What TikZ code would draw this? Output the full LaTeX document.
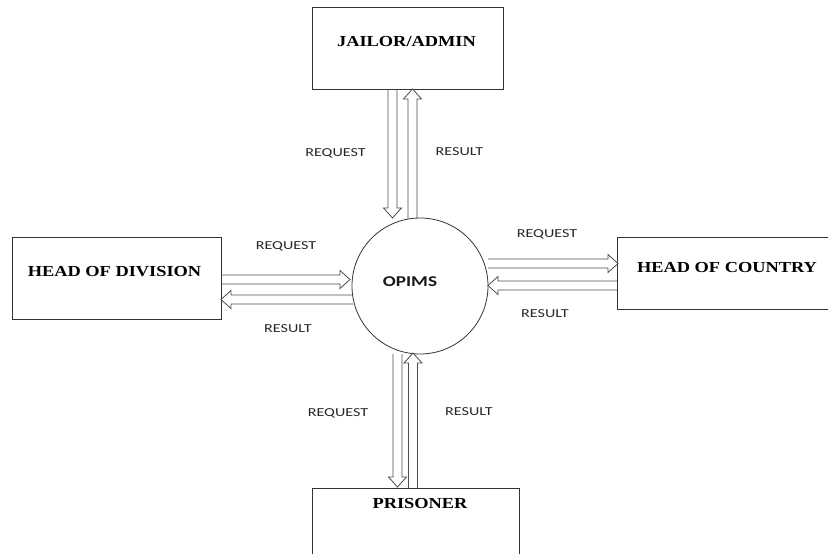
\documentclass[tikz,border=0pt]{standalone}
\usepackage{fontspec}
\usetikzlibrary{calc}
\newfontfamily\boxfont{Liberation Serif}[FakeStretch=1.2]
\newfontfamily\lblfont{Carlito}[FakeStretch=1.32]
\newfontfamily\ctrfont{Carlito}[FakeStretch=1.28]
\definecolor{edgecol}{gray}{0.2}
\definecolor{flowcol}{gray}{0.3}
\definecolor{lblcol}{gray}{0.15}
\newcommand\flowarrow[2]{%
  \path ($(#2)!10pt!(#1)$) coordinate (fa-base);
  \draw[flowline] ($(#1)!4.5pt!90:(#2)$) -- ($(fa-base)!4.5pt!90:(#2)$) -- ($(fa-base)!9pt!90:(#2)$) -- (#2) -- ($(fa-base)!9pt!-90:(#2)$) -- ($(fa-base)!4.5pt!-90:(#2)$) -- ($(#1)!4.5pt!-90:(#2)$);}
\tikzset{
  entity/.style={draw=edgecol, line width=0.9pt, rectangle, inner sep=0pt},
  enttext/.style={font=\boxfont\bfseries\fontsize{15.3}{18}\selectfont, text=black, inner sep=0pt},
  proc/.style={draw=edgecol, line width=0.8pt, circle, inner sep=0pt, minimum size=136pt},
  proctext/.style={font=\ctrfont\bfseries\fontsize{15}{18}\selectfont, text=black!90, inner sep=0pt},
  flowlbl/.style={font=\lblfont\fontsize{12.2}{14}\selectfont, text=lblcol, inner sep=0pt},
  flowline/.style={draw=flowcol, line width=0.8pt, line join=miter}
}
\begin{document}
\begin{tikzpicture}[x=1pt, y=-1pt]
\useasboundingbox (0,0) rectangle (828,554);
% entities
\node[entity, minimum width=191pt, minimum height=82pt] (jailor) at (407.5,48) {};
\node[enttext] (jailortxt) at (406.5,42) {JAILOR/ADMIN};
\node[entity, minimum width=209pt, minimum height=82pt] (division) at (116.5,278) {};
\node[enttext] (divisiontxt) at (114.5,271.5) {HEAD OF DIVISION};
\node[entity, minimum width=215pt, minimum height=72pt] (country) at (724.5,273) {};
\node[enttext] (countrytxt) at (727,267.5) {HEAD OF COUNTRY};
\node[entity, minimum width=207pt, minimum height=80pt] (prisoner) at (415.5,528) {};
\node[enttext] (prisonertxt) at (420,504) {PRISONER};
% process
\node[proc] (opims) at (420,286) {};
\node[proctext] (opimstxt) at (410,282) {OPIMS};
% flow end points
\coordinate (jq1) at (392.5,89);   \coordinate (jq2) at (392.5,218);
\coordinate (jr1) at (412.5,219);  \coordinate (jr2) at (412.5,89);
\coordinate (dq1) at (221,279.5);  \coordinate (dq2) at (350,279.5);
\coordinate (dr1) at (353,299.5);  \coordinate (dr2) at (221,299.5);
\coordinate (cq1) at (488,263.5);  \coordinate (cq2) at (618,263.5);
\coordinate (cr1) at (617,285.5);  \coordinate (cr2) at (488,285.5);
\coordinate (pq1) at (397.5,354);  \coordinate (pq2) at (397.5,487);
\coordinate (pr1) at (413,488);    \coordinate (pr2) at (413,353);
% flows
\flowarrow{jq1}{jq2}
\flowarrow{jr1}{jr2}
\flowarrow{dq1}{dq2}
\flowarrow{dr1}{dr2}
\flowarrow{cq1}{cq2}
\flowarrow{cr1}{cr2}
\flowarrow{pq1}{pq2}
\flowarrow{pr1}{pr2}
% labels
\node[flowlbl] (l1) at (335.5,153) {REQUEST};
\node[flowlbl] (l2) at (459.5,152) {RESULT};
\node[flowlbl] (l3) at (286,246) {REQUEST};
\node[flowlbl] (l4) at (288,329) {RESULT};
\node[flowlbl] (l5) at (547,234) {REQUEST};
\node[flowlbl] (l6) at (545,314) {RESULT};
\node[flowlbl] (l7) at (338,413) {REQUEST};
\node[flowlbl] (l8) at (469,412) {RESULT};
\end{tikzpicture}
\end{document}
